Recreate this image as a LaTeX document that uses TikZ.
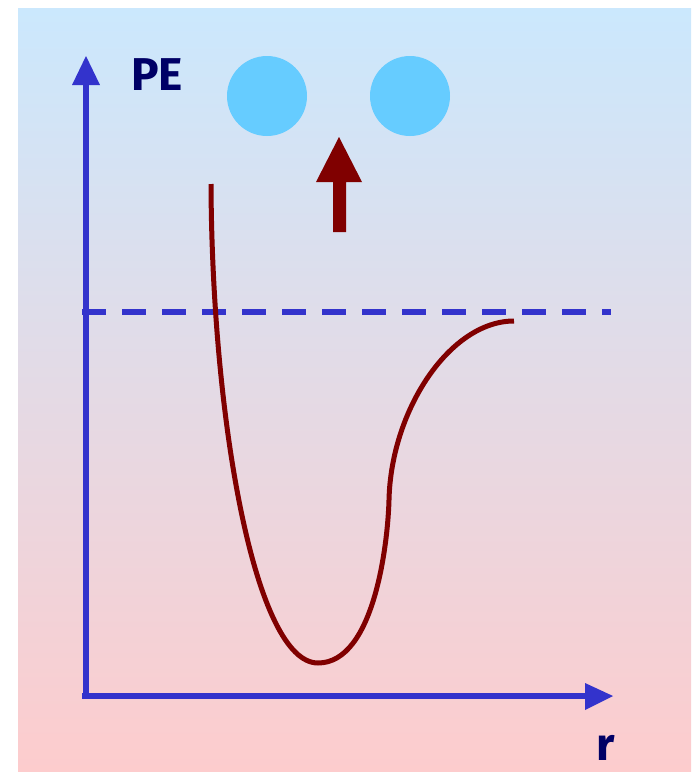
\documentclass[tikz,border=0pt]{standalone}
\usepackage{fontspec}
\newfontfamily\labelfont{Fira Sans Bold}
\definecolor{axisblue}{HTML}{3333CC}
\definecolor{curvered}{HTML}{800000}
\definecolor{ballblue}{HTML}{66CCFF}
\definecolor{labelnavy}{HTML}{000066}
\definecolor{bgtop}{HTML}{CBE8FD}
\definecolor{bgbottom}{HTML}{FDCCCD}
\begin{document}
\begin{tikzpicture}[x=1pt,y=-1pt,
  axis/.style={line width=6pt,draw=axisblue},
  headstyle/.style={fill=axisblue,draw=none},
  curve/.style={line width=5pt,draw=curvered},
  ball/.style={circle,fill=ballblue,minimum size=80pt,inner sep=0pt,draw=none},
  axlabel/.style={text=labelnavy,font=\labelfont\fontsize{46}{46}\selectfont,inner sep=0pt}]
\useasboundingbox (0,0) rectangle (695,772);
\shade[top color=bgtop,bottom color=bgbottom] (18,8) rectangle (691,772);
% dashed reference line
\draw[line width=6pt,draw=axisblue,dash pattern=on 24pt off 16pt] (82,312) -- (611,312);
% axes
\coordinate (origin) at (86,696);
\coordinate (ytop) at (86,85);
\coordinate (xend) at (585,696);
\draw[axis] (86,699) -- (ytop);
\draw[axis] (82,696) -- (xend);
\fill[headstyle] (86,56) -- (72,85) -- (100,85) -- cycle;
\fill[headstyle] (613,696) -- (585,683) -- (585,710) -- cycle;
% labels
\node[axlabel,anchor=west] (pe) at (131,75) {PE};
\node[axlabel,anchor=base] (r) at (606,760) {r};
% balls
\node[ball] (b1) at (267,96) {};
\node[ball] (b2) at (410,96) {};
% maroon arrow
\fill[curvered] (339,137) -- (316,182) -- (333,182) -- (333,232) -- (346,232) -- (346,182) -- (362,182) -- cycle;
% potential curve
\coordinate (c0) at (211,184);
\coordinate (c1) at (318,663);
\coordinate (c2) at (389,500);
\coordinate (c3) at (514,321);
\draw[curve] (c0) .. controls (212,420) and (255,663) .. (c1)
  .. controls (375,663) and (388,540) .. (c2)
  .. controls (391,410) and (450,321) .. (c3);
\end{tikzpicture}
\end{document}
